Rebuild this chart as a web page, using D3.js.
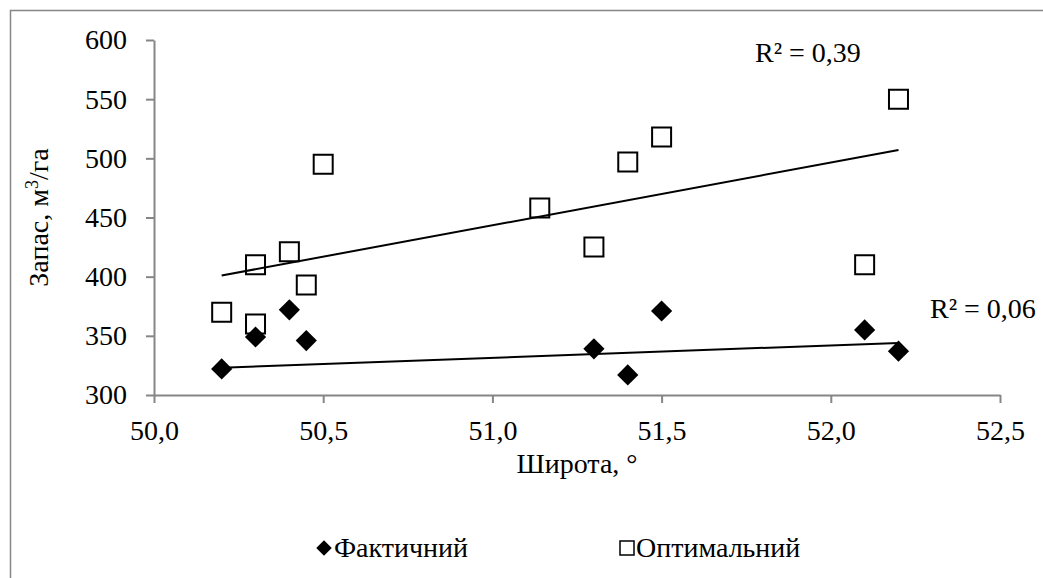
<!DOCTYPE html>
<html>
<head>
<meta charset="utf-8">
<script src="https://cdn.jsdelivr.net/npm/d3@7"></script>
<style>
  body { margin: 0; background: #fff; }
  text { font-family: "Liberation Serif", "Times New Roman", serif; fill: #000; }
</style>
</head>
<body>
<div id="chart"></div>
<script>

// Data
var seriesNames = ['Фактичний', 'Оптимальний'];
var factLat = [50.2, 50.3, 50.4, 50.45, 51.3, 51.4, 51.5, 52.1, 52.2];
var factVal = [322, 349, 372, 346, 339, 317, 371, 355, 337];
var optLat = [50.2, 50.3, 50.3, 50.4, 50.45, 50.5, 51.14, 51.3, 51.4, 51.5, 52.1, 52.2];
var optVal = [370, 360, 410, 421, 393, 495, 458, 425, 497, 518, 410, 550];
// Trend line ends as drawn in the picture (at the first and last latitude)
var factTrend = [323, 344];
var optTrend = [401, 507];
var xTicks = [50.0, 50.5, 51.0, 51.5, 52.0, 52.5];
var yTicks = [300, 350, 400, 450, 500, 550, 600];
var r2Labels = ['R² = 0,06', 'R² = 0,39'];

var width = 1043,
    height = 578,
    margin = {top: 40, right: 43, bottom: 183, left: 154},
    fontSize = '28px',
    axisColor = '#868686';

var svg = d3.select('#chart').append('svg')
    .attr('width', width)
    .attr('height', height);

// Outer chart frame (runs off the right and bottom edge)
svg.append('rect')
    .attr('x', 10.5).attr('y', 10.5)
    .attr('width', width + 20).attr('height', height + 20)
    .attr('fill', 'none')
    .attr('stroke', axisColor)
    .attr('stroke-width', 1.5);

var x = d3.scaleLinear()
    .domain([xTicks[0], xTicks[xTicks.length - 1]])
    .range([margin.left, width - margin.right]);

var y = d3.scaleLinear()
    .domain([yTicks[0], yTicks[yTicks.length - 1]])
    .range([height - margin.bottom, margin.top]);

var comma = d3.formatLocale({decimal: ',', thousands: ' ', grouping: [3], currency: ['', '']});

// Axes
var xAxis = svg.append('g')
    .attr('transform', 'translate(0,' + y.range()[0] + ')')
    .call(d3.axisBottom(x).tickValues(xTicks).tickFormat(comma.format('.1f'))
        .tickSize(8).tickSizeOuter(0).tickPadding(17));

var yAxis = svg.append('g')
    .attr('transform', 'translate(' + x.range()[0] + ',0)')
    .call(d3.axisLeft(y).tickValues(yTicks).tickFormat(d3.format('d'))
        .tickSize(8).tickSizeOuter(0).tickPadding(19));

[xAxis, yAxis].forEach(function(g) {
    g.selectAll('path, line').attr('stroke', axisColor).attr('stroke-width', 2);
    g.selectAll('text')
        .style('font-family', '"Liberation Serif", serif')
        .style('font-size', fontSize)
        .attr('fill', '#000');
});

// Axis titles
svg.append('text')
    .attr('x', (x.range()[0] + x.range()[1]) / 2)
    .attr('y', 473)
    .attr('text-anchor', 'middle')
    .style('font-size', fontSize)
    .text('Широта, °');

var yTitle = svg.append('text')
    .attr('transform', 'translate(48,' + ((y.range()[0] + y.range()[1]) / 2) + ') rotate(-90)')
    .attr('text-anchor', 'middle')
    .style('font-size', fontSize);
yTitle.append('tspan').text('Запас, м');
yTitle.append('tspan').attr('dy', -10).style('font-size', '18px').text('3');
yTitle.append('tspan').attr('dy', 10).text('/га');

var line = d3.line()
    .x(function(d) { return x(d[0]); })
    .y(function(d) { return y(d[1]); });

var squareSym = d3.symbol().type(d3.symbolSquare).size(19 * 19);
var diamondSym = d3.symbol().type(d3.symbolSquare).size(15 * 15);

// Optimal series: hollow squares
svg.append('g').selectAll('path')
    .data(d3.zip(optLat, optVal))
    .enter().append('path')
    .attr('d', squareSym)
    .attr('transform', function(d) { return 'translate(' + x(d[0]) + ',' + y(d[1]) + ')'; })
    .attr('fill', 'none')
    .attr('stroke', '#000')
    .attr('stroke-width', 2);

// Actual series: filled diamonds
svg.append('g').selectAll('path')
    .data(d3.zip(factLat, factVal))
    .enter().append('path')
    .attr('d', diamondSym)
    .attr('transform', function(d) { return 'translate(' + x(d[0]) + ',' + y(d[1]) + ') rotate(45)'; })
    .attr('fill', '#000');

// Trend lines
[d3.zip(d3.extent(factLat), factTrend), d3.zip(d3.extent(optLat), optTrend)].forEach(function(t) {
    svg.append('path')
        .attr('d', line(t))
        .attr('fill', 'none')
        .attr('stroke', '#000')
        .attr('stroke-width', 2);
});

// R² labels
svg.append('text').attr('x', 930).attr('y', 318).style('font-size', fontSize).text(r2Labels[0]);
svg.append('text').attr('x', 755).attr('y', 62).style('font-size', fontSize).text(r2Labels[1]);

// Legend
var legend = svg.append('g').attr('transform', 'translate(0,548)');
legend.append('path')
    .attr('d', d3.symbol().type(d3.symbolSquare).size(11 * 11))
    .attr('transform', 'translate(324,0) rotate(45)')
    .attr('fill', '#000');
legend.append('text').attr('x', 334).attr('y', 9).style('font-size', fontSize).text(seriesNames[0]);
legend.append('path')
    .attr('d', d3.symbol().type(d3.symbolSquare).size(14 * 14))
    .attr('transform', 'translate(627,0)')
    .attr('fill', 'none')
    .attr('stroke', '#000')
    .attr('stroke-width', 1.5);
legend.append('text').attr('x', 636).attr('y', 9).style('font-size', fontSize).text(seriesNames[1]);

</script>
</body>
</html>
